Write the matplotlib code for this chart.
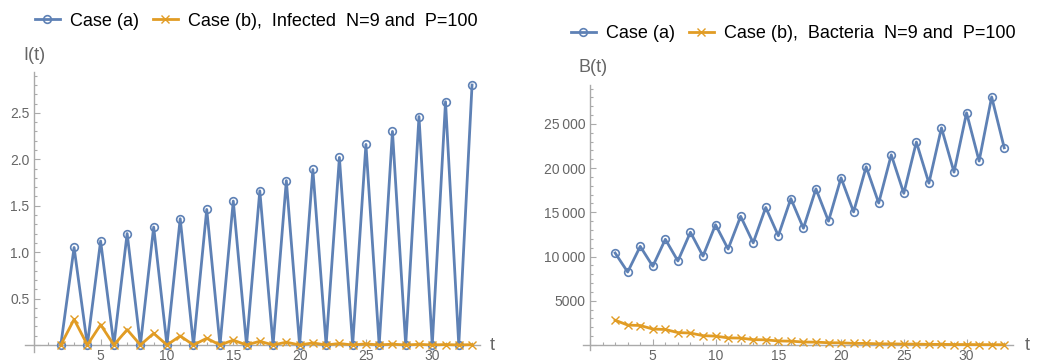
import matplotlib.pyplot as plt
from matplotlib.ticker import MultipleLocator, FuncFormatter

plt.rcParams['font.family'] = ['Liberation Sans', 'DejaVu Sans']

BLUE = '#5E81B5'
ORANGE = '#E19C24'
AXIS = '#AAAAAA'
TEXT = '#666666'

t = list(range(2, 34))

# Infected I(t)
infected_a = [0, 1.05, 0, 1.12, 0, 1.20, 0, 1.27, 0, 1.36, 0, 1.46, 0, 1.55, 0, 1.66,
              0, 1.77, 0, 1.89, 0, 2.02, 0, 2.16, 0, 2.30, 0, 2.46, 0, 2.62, 0, 2.80]
infected_b = [0, 0.276, 0, 0.218, 0, 0.165, 0, 0.125, 0, 0.097, 0, 0.072, 0, 0.052, 0, 0.040,
              0, 0.030, 0, 0.022, 0, 0.016, 0, 0.012, 0, 0.009, 0, 0.007, 0, 0.005, 0, 0.004]

# Bacteria B(t)
bacteria_a = [10400, 8250, 11150, 8900, 11950, 9500, 12750, 10050, 13600, 10850, 14550,
              11550, 15550, 12350, 16550, 13200, 17650, 14000, 18900, 15050, 20150, 16050,
              21500, 17150, 22950, 18300, 24550, 19550, 26250, 20800, 28050, 22300]
bacteria_b = [2800, 2250, 2200, 1800, 1750, 1400, 1350, 1050, 1000, 800, 780, 600, 580,
              450, 430, 330, 320, 250, 240, 180, 175, 130, 125, 100, 95, 70, 68, 50, 50,
              38, 36, 28]

LABEL_A = 'Case (a)'
LABEL_B_LEFT = 'Case (b),  Infected  N=9 and  P=100'
LABEL_B_RIGHT = 'Case (b),  Bacteria  N=9 and  P=100'

W, H = 1046, 360


def style_axes(ax, ymajor, yminor, fmt=None):
    for side in ('top', 'right'):
        ax.spines[side].set_visible(False)
    ax.spines['bottom'].set_position(('data', 0))
    ax.spines['left'].set_position(('data', 0))
    for side in ('bottom', 'left'):
        ax.spines[side].set_color(AXIS)
        ax.spines[side].set_linewidth(1.0)
    ax.xaxis.set_major_locator(MultipleLocator(5))
    ax.xaxis.set_minor_locator(MultipleLocator(1))
    ax.yaxis.set_major_locator(MultipleLocator(ymajor))
    ax.yaxis.set_minor_locator(MultipleLocator(yminor))
    ax.tick_params(axis='both', which='both', direction='in', color=AXIS,
                   labelcolor=TEXT, labelsize=10, width=0.8)
    ax.tick_params(axis='both', which='major', length=4)
    ax.tick_params(axis='both', which='minor', length=2)
    ax.tick_params(axis='x', pad=3)
    if fmt is not None:
        ax.yaxis.set_major_formatter(fmt)
    ax.xaxis.set_major_formatter(FuncFormatter(lambda v, p: '' if v == 0 else f'{v:g}'))
    ax.set_facecolor('none')


def add_legend(ax, x, y):
    ax.legend(loc='center left', bbox_to_anchor=(x / W, 1 - y / H),
              bbox_transform=fig.transFigure, ncol=2, frameon=False, fontsize=13,
              borderpad=0, borderaxespad=0, labelcolor='black',
              handlelength=1.38, handletextpad=0.55, columnspacing=0.78)


fig = plt.figure(figsize=(W / 100, H / 100), dpi=100)

# left panel
ax1 = fig.add_axes([25 / W, (H - 352.4) / H, (480 - 25) / W, (352.4 - 72) / H])
ax1.plot(t, infected_a, color=BLUE, lw=2, marker='o', ms=5.5, mfc='none',
         mec=BLUE, mew=1.2, label=LABEL_A, zorder=3)
ax1.plot(t, infected_b, color=ORANGE, lw=2, marker='x', ms=5.5, mec=ORANGE,
         mew=1.0, label=LABEL_B_LEFT, zorder=4)
ax1.set_xlim(-0.7, 33.6)
ax1.set_ylim(-0.08, 2.94)
style_axes(ax1, 0.5, 0.1,
           FuncFormatter(lambda v, p: '' if abs(v) < 1e-9 else f'{v:.1f}'))
fig.text(23 / W, 1 - 55 / H, 'I(t)', color=TEXT, fontsize=13, va='center', ha='left')
fig.text(490 / W, 1 - 345 / H, 't', color=TEXT, fontsize=13, va='center', ha='left')
add_legend(ax1, 35, 21)

# right panel
ax2 = fig.add_axes([582.5 / W, (H - 350) / H, (1013 - 582.5) / W, (350 - 85) / H])
ax2.plot(t, bacteria_a, color=BLUE, lw=2, marker='o', ms=5.5, mfc='none',
         mec=BLUE, mew=1.2, label=LABEL_A, zorder=3)
ax2.plot(t, bacteria_b, color=ORANGE, lw=2, marker='x', ms=5.5, mec=ORANGE,
         mew=1.0, label=LABEL_B_RIGHT, zorder=4)
ax2.set_xlim(-0.6, 33.7)
ax2.set_ylim(-570, 29400)
style_axes(ax2, 5000, 1000,
           FuncFormatter(lambda v, p: '' if v == 0 else
                         (f'{int(v)}' if v < 10000 else f'{int(v) // 1000}\u2009{int(v) % 1000:03d}')))
fig.text(578 / W, 1 - 67 / H, 'B(t)', color=TEXT, fontsize=13, va='center', ha='left')
fig.text(1025 / W, 1 - 345 / H, 't', color=TEXT, fontsize=13, va='center', ha='left')
add_legend(ax2, 571, 34)

fig.savefig('out.png', dpi=100)
